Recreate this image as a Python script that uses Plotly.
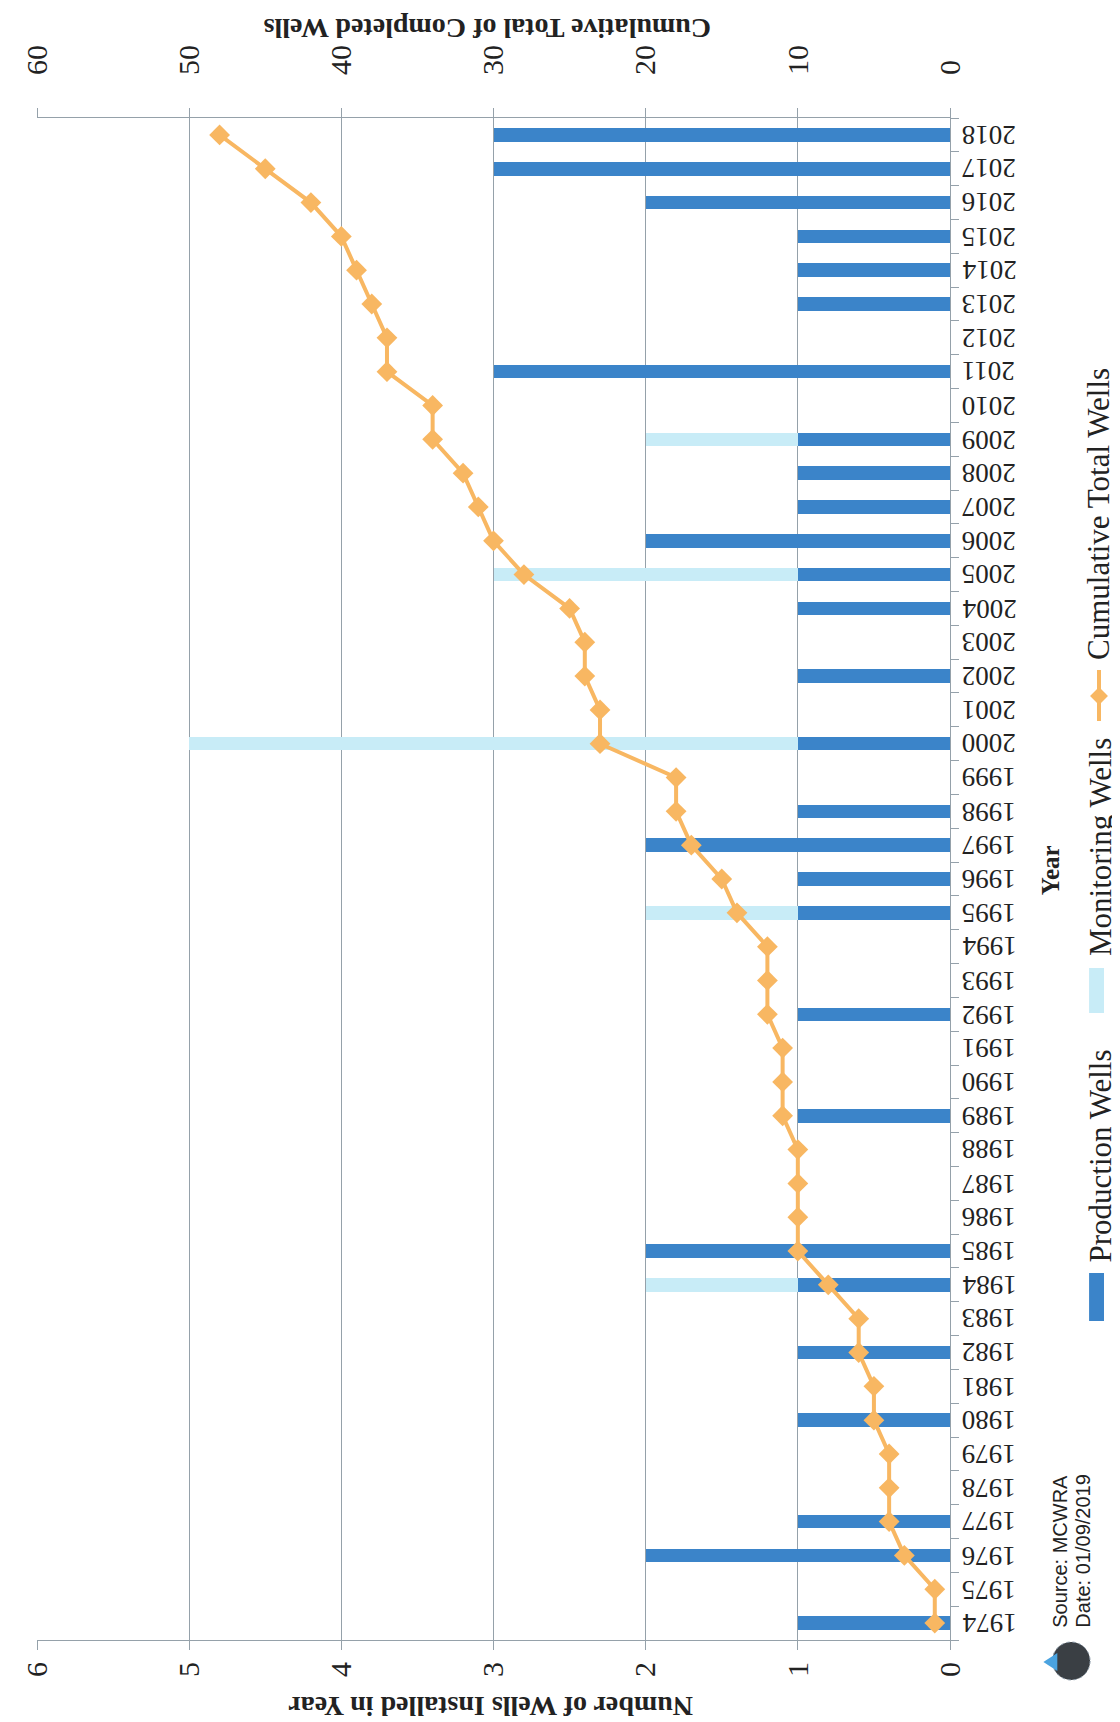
import plotly.graph_objects as go

years = ["1974", "1975", "1976", "1977", "1978", "1979", "1980", "1981", "1982", "1983",
         "1984", "1985", "1986", "1987", "1988", "1989", "1990", "1991", "1992", "1993",
         "1994", "1995", "1996", "1997", "1998", "1999", "2000", "2001", "2002", "2003",
         "2004", "2005", "2006", "2007", "2008", "2009", "2010", "2011", "2012", "2013",
         "2014", "2015", "2016", "2017", "2018"]
production = [1, 0, 2, 1, 0, 0, 1, 0, 1, 0,
              1, 2, 0, 0, 0, 1, 0, 0, 1, 0,
              0, 1, 1, 2, 1, 0, 1, 0, 1, 0,
              1, 1, 2, 1, 1, 1, 0, 3, 0, 1,
              1, 1, 2, 3, 3]
monitoring = [0, 0, 0, 0, 0, 0, 0, 0, 0, 0,
              1, 0, 0, 0, 0, 0, 0, 0, 0, 0,
              0, 1, 0, 0, 0, 0, 4, 0, 0, 0,
              0, 2, 0, 0, 0, 1, 0, 0, 0, 0,
              0, 0, 0, 0, 0]
cumulative = [1, 1, 3, 4, 4, 4, 5, 5, 6, 6,
              8, 10, 10, 10, 10, 11, 11, 11, 12, 12,
              12, 14, 15, 17, 18, 18, 23, 23, 24, 24,
              25, 28, 30, 31, 32, 34, 34, 37, 37, 38,
              39, 40, 42, 45, 48]
left_ticks = [0, 1, 2, 3, 4, 5, 6]
right_ticks = [0, 10, 20, 30, 40, 50, 60]

W, H = 1120, 1722
L, R, T, B = 23, 178, 110, 90
PW, PH = W - L - R, H - T - B


def px(x):
    return (x - L) / PW


def py(y):
    return (H - B - y) / PH


PROD = "#3b84c9"
MON = "#c8ecf7"
ORANGE = "#f8b762"
GRID = "#95a1aa"
SERIF = "Liberation Serif"
TXT = "#222222"

fig = go.Figure()
fig.add_trace(go.Bar(y=years, x=production, orientation="h", name="Production Wells",
                     marker=dict(color=PROD, line=dict(width=0)), xaxis="x", yaxis="y"))
fig.add_trace(go.Bar(y=years, x=monitoring, orientation="h", name="Monitoring Wells",
                     marker=dict(color=MON, line=dict(width=0)), xaxis="x", yaxis="y"))
fig.add_trace(go.Scatter(y=years, x=cumulative, mode="lines+markers", name="Cumulative Total Wells",
                         line=dict(color=ORANGE, width=4),
                         marker=dict(symbol="diamond", size=16, color=ORANGE),
                         xaxis="x2", yaxis="y"))

fig.update_layout(
    width=W, height=H,
    margin=dict(l=L, r=R, t=T, b=B, pad=0),
    paper_bgcolor="white", plot_bgcolor="white",
    barmode="stack", bargap=0.6,
    showlegend=False,
    font=dict(family=SERIF, color=TXT),
    xaxis=dict(range=[6, 0], tickvals=left_ticks, ticktext=[str(v) for v in left_ticks],
               tickangle=-90, tickfont=dict(size=30, family=SERIF, color=TXT),
               showgrid=True, gridcolor=GRID, gridwidth=1, zeroline=False,
               showline=True, linecolor=GRID, linewidth=1,
               ticks="outside", ticklen=9, tickcolor=GRID, side="bottom"),
    xaxis2=dict(range=[60, 0], tickvals=right_ticks, ticktext=[str(v) for v in right_ticks],
                overlaying="x", side="top", tickangle=-90,
                tickfont=dict(size=30, family=SERIF, color=TXT),
                showgrid=False, zeroline=False,
                showline=True, linecolor=GRID, linewidth=1,
                ticks="outside", ticklen=9, tickcolor=GRID, ticklabelstandoff=27),
    yaxis=dict(type="category", categoryorder="array", categoryarray=years,
               range=[-0.5, len(years) - 0.5], autorange=False,
               side="right", showticklabels=False,
               showgrid=False, zeroline=False, showline=True, linecolor=GRID, linewidth=1,
               ticks="outside", ticklen=8, tickcolor=GRID, tickson="boundaries"),
)

ann = []
# year labels, upside down like the rotated scan (category index on the y axis)
for i, yr in enumerate(years):
    ann.append(dict(text=yr, x=px(952), y=i, xref="paper", yref="y",
                    xanchor="left", yanchor="middle", showarrow=False, textangle=180,
                    font=dict(size=27, family=SERIF, color=TXT)))

ann.append(dict(text="<b>Number of Wells Installed in Year</b>", x=px(480), y=py(1699),
                xanchor="center", yanchor="middle",
                xref="paper", yref="paper", showarrow=False, textangle=180,
                font=dict(size=28, family=SERIF, color=TXT)))
ann.append(dict(text="<b>Cumulative Total of Completed Wells</b>", x=px(476), y=py(21),
                xanchor="center", yanchor="middle",
                xref="paper", yref="paper", showarrow=False, textangle=180,
                font=dict(size=28, family=SERIF, color=TXT)))
ann.append(dict(text="<b>Year</b>", x=px(1043), y=py(862),
                xanchor="center", yanchor="middle",
                xref="paper", yref="paper", showarrow=False, textangle=-90,
                font=dict(size=25, family=SERIF, color=TXT)))
# legend texts
ann.append(dict(text="Production Wells", x=px(1093), y=py(1257),
                xanchor="center", yanchor="bottom",
                xref="paper", yref="paper", showarrow=False, textangle=-90,
                font=dict(size=31, family=SERIF, color=TXT)))
ann.append(dict(text="Monitoring Wells", x=px(1093), y=py(950),
                xanchor="center", yanchor="bottom",
                xref="paper", yref="paper", showarrow=False, textangle=-90,
                font=dict(size=31, family=SERIF, color=TXT)))
ann.append(dict(text="Cumulative Total Wells", x=px(1092), y=py(654),
                xanchor="center", yanchor="bottom",
                xref="paper", yref="paper", showarrow=False, textangle=-90,
                font=dict(size=31, family=SERIF, color=TXT)))
ann.append(dict(text="Source: MCWRA", x=px(1052), y=py(1622),
                xanchor="center", yanchor="bottom",
                xref="paper", yref="paper", showarrow=False, textangle=-90,
                font=dict(size=20, family="Liberation Sans", color=TXT)))
ann.append(dict(text="Date: 01/09/2019", x=px(1075), y=py(1622),
                xanchor="center", yanchor="bottom",
                xref="paper", yref="paper", showarrow=False, textangle=-90,
                font=dict(size=20, family="Liberation Sans", color=TXT)))

shapes = []
# legend swatches
shapes.append(dict(type="rect", xref="paper", yref="paper",
                   x0=px(1082), x1=px(1097), y0=py(1313), y1=py(1265),
                   fillcolor=PROD, line=dict(width=0)))
shapes.append(dict(type="rect", xref="paper", yref="paper",
                   x0=px(1082), x1=px(1097), y0=py(1005), y1=py(960),
                   fillcolor=MON, line=dict(width=0)))
shapes.append(dict(type="line", xref="paper", yref="paper",
                   x0=px(1092), x1=px(1092), y0=py(713), y1=py(662),
                   line=dict(color=ORANGE, width=4)))
cx, cy, d = 1092, 688, 9
shapes.append(dict(type="path", xref="paper", yref="paper",
                   path=f"M {px(cx)},{py(cy-d)} L {px(cx+d)},{py(cy)} L {px(cx)},{py(cy+d)} L {px(cx-d)},{py(cy)} Z",
                   fillcolor=ORANGE, line=dict(width=0)))
# logo approximation
shapes.append(dict(type="circle", xref="paper", yref="paper",
                   x0=px(1045), x1=px(1083), y0=py(1672), y1=py(1634),
                   fillcolor="#3a3f44", line=dict(color="#8a9aa8", width=1, dash="dot")))
shapes.append(dict(type="path", xref="paper", yref="paper",
                   path=f"M {px(1036)},{py(1654)} L {px(1050)},{py(1645)} L {px(1050)},{py(1663)} Z",
                   fillcolor="#4aa3e0", line=dict(width=0)))
# page edge
shapes.append(dict(type="line", xref="paper", yref="paper",
                   x0=px(1116), x1=px(1116), y0=py(0), y1=py(1722),
                   line=dict(color="#d0d0d0", width=1)))

fig.update_layout(annotations=ann, shapes=shapes)
fig.write_html("out.html")
